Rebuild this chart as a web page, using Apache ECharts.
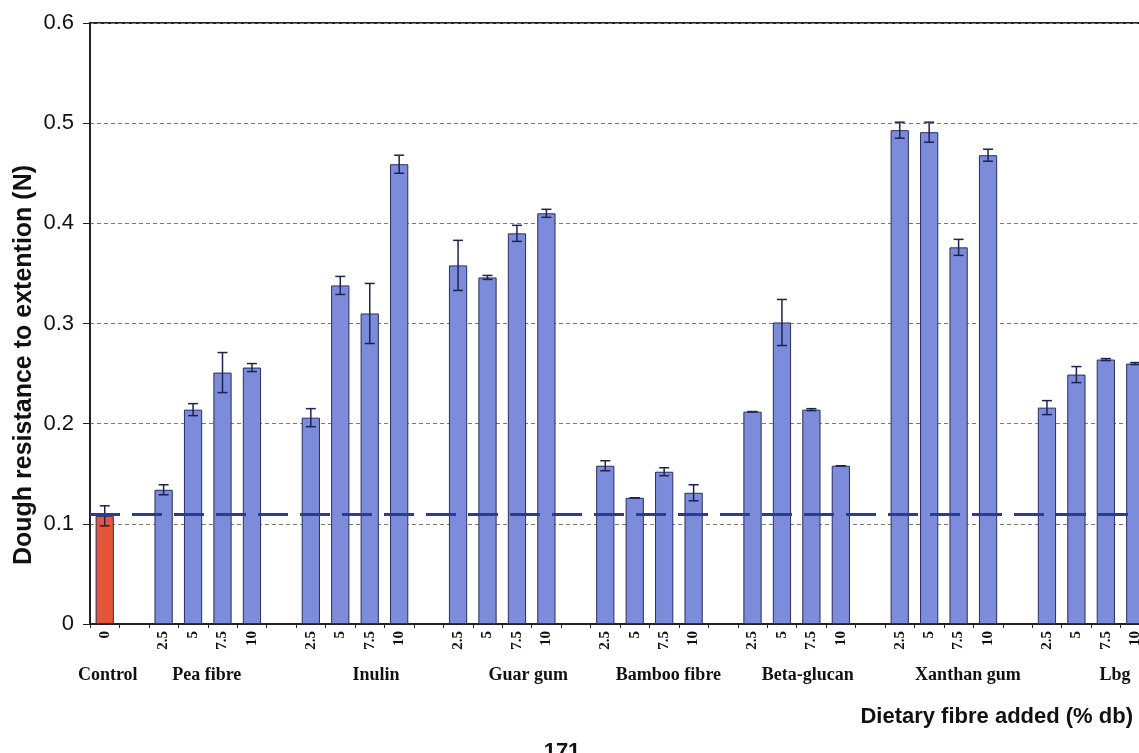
<!DOCTYPE html>
<html>
<head>
<meta charset="utf-8">
<script src="https://cdn.jsdelivr.net/npm/echarts@6/dist/echarts.min.js"></script>
<style>
  html, body { margin: 0; padding: 0; background: #ffffff; }
  #chart { width: 1139px; height: 753px; }
</style>
</head>
<body>
<div id="chart"></div>
<script>
// Fibre groups and the dose levels (% db) tested for each
const groups = ['Control', 'Pea fibre', 'Inulin', 'Guar gum', 'Bamboo fibre', 'Beta-glucan', 'Xanthan gum', 'Lbg'];
const controlDoses = ['0'];
const fibreDoses = ['2.5', '5', '7.5', '10'];

// Mean dough resistance to extension (N) and the error-bar half widths
const controlMean = [0.108];
const controlErr = [0.010];
const peaMean = [0.134, 0.214, 0.251, 0.256];
const peaErr = [0.005, 0.006, 0.020, 0.004];
const inulinMean = [0.206, 0.338, 0.310, 0.459];
const inulinErr = [0.009, 0.009, 0.030, 0.009];
const guarMean = [0.358, 0.346, 0.390, 0.410];
const guarErr = [0.025, 0.002, 0.008, 0.004];
const bambooMean = [0.158, 0.126, 0.152, 0.131];
const bambooErr = [0.005, 0.000, 0.004, 0.008];
const betaMean = [0.212, 0.301, 0.214, 0.158];
const betaErr = [0.000, 0.023, 0.001, 0.000];
const xanthanMean = [0.493, 0.491, 0.376, 0.468];
const xanthanErr = [0.008, 0.010, 0.008, 0.006];
const lbgMean = [0.216, 0.249, 0.264, 0.260];
const lbgErr = [0.007, 0.008, 0.001, 0.001];

// Control level drawn as a dashed reference across the plot
const controlLevel = 0.108;

// Value axis ticks
const yMin = 0, yMax = 0.6, yStep = 0.1;

// Horizontal nudge (px) of each group caption relative to its group centre
const groupCaptionNudge = [3, -1, 21, 26, 19, 11, 24, 24];

const groupMeans = [controlMean, peaMean, inulinMean, guarMean, bambooMean, betaMean, xanthanMean, lbgMean];
const groupErrs = [controlErr, peaErr, inulinErr, guarErr, bambooErr, betaErr, xanthanErr, lbgErr];

// One slot per bar, with an empty slot between consecutive groups
const slots = [];
const groupSlotRange = [];
groups.forEach((g, gi) => {
  if (gi > 0) slots.push({ key: 'gap' + gi, gap: true });
  const doses = gi === 0 ? controlDoses : fibreDoses;
  const start = slots.length;
  doses.forEach((d, di) => {
    slots.push({ key: g + '|' + d, dose: d, mean: groupMeans[gi][di], err: groupErrs[gi][di], control: gi === 0 });
  });
  groupSlotRange.push([start, slots.length - 1]);
});

const categories = slots.map(s => s.key);
const barData = slots.map(s => {
  if (s.gap) return '-';
  if (s.control) return { value: s.mean, itemStyle: { color: '#e4553a' } };
  return s.mean;
});
const errData = [];
slots.forEach((s, i) => { if (!s.gap) errData.push([i, s.mean, s.err]); });

const chart = echarts.init(document.getElementById('chart'), null, { renderer: 'canvas' });

const option = {
  animation: false,
  backgroundColor: '#ffffff',
  grid: {
    left: 90, top: 23, width: 1060, height: 601,
    show: true, borderColor: '#222222', borderWidth: 2, backgroundColor: 'transparent',
    containLabel: false, outerBoundsMode: 'none'
  },
  xAxis: {
    type: 'category',
    data: categories,
    boundaryGap: true,
    axisLine: { lineStyle: { color: '#222222', width: 2 } },
    axisTick: { show: true, length: 4, lineStyle: { color: '#222222' } },
    axisLabel: {
      interval: 0,
      rotate: 90,
      margin: 7,
      fontFamily: 'Liberation Serif',
      fontWeight: 'bold',
      fontSize: 15,
      color: '#111111',
      formatter: v => (v.indexOf('|') < 0 ? '' : v.split('|')[1])
    },
    splitLine: { show: false }
  },
  yAxis: {
    type: 'value',
    min: yMin, max: yMax, interval: yStep,
    axisLine: { show: true, lineStyle: { color: '#222222', width: 2 } },
    axisTick: { show: true, length: 7, lineStyle: { color: '#222222' } },
    axisLabel: {
      margin: 16,
      fontFamily: 'Liberation Sans',
      fontSize: 22,
      color: '#111111'
    },
    splitLine: { show: true, lineStyle: { color: '#7a7a7a', width: 1, type: [4, 3] } }
  },
  series: [
    {
      name: 'Resistance',
      type: 'bar',
      data: barData,
      barWidth: '62%',
      itemStyle: { color: '#7d8cda', borderColor: '#2a2d5e', borderWidth: 1 },
      z: 2
    },
    {
      name: 'Error',
      type: 'custom',
      data: errData,
      z: 4,
      renderItem: (params, api) => {
        const x = api.value(0), m = api.value(1), e = api.value(2);
        const top = api.coord([x, m + e]);
        const bot = api.coord([x, m - e]);
        const half = 5;
        const st = { stroke: '#1c2350', lineWidth: 1.5 };
        return {
          type: 'group',
          children: [
            { type: 'line', shape: { x1: top[0], y1: top[1], x2: bot[0], y2: bot[1] }, style: st },
            { type: 'line', shape: { x1: top[0] - half, y1: top[1], x2: top[0] + half, y2: top[1] }, style: st },
            { type: 'line', shape: { x1: bot[0] - half, y1: bot[1], x2: bot[0] + half, y2: bot[1] }, style: st }
          ]
        };
      },
      markLine: {
        silent: true,
        symbol: ['none', 'none'],
        label: { show: false },
        lineStyle: { color: '#2b3d92', width: 3, type: [30, 12] },
        data: [{ yAxis: controlLevel }],
        z: 6
      }
    }
  ]
};

chart.setOption(option);

// Captions: group names under the dose labels, axis titles
const graphics = [];
groups.forEach((g, gi) => {
  const r = groupSlotRange[gi];
  const c0 = chart.convertToPixel({ xAxisIndex: 0 }, r[0]);
  const c1 = chart.convertToPixel({ xAxisIndex: 0 }, r[1]);
  graphics.push({
    type: 'text',
    x: (c0 + c1) / 2 + groupCaptionNudge[gi],
    y: 675,
    style: {
      text: g, fill: '#111111',
      font: 'bold 18px "Liberation Serif"',
      textAlign: 'center', textVerticalAlign: 'middle'
    }
  });
});
graphics.push({
  type: 'text',
  x: 24, y: 365, rotation: Math.PI / 2,
  style: {
    text: 'Dough resistance to extention (N)', fill: '#111111',
    font: 'bold 25px "Liberation Sans"',
    textAlign: 'center', textVerticalAlign: 'middle'
  }
});
graphics.push({
  type: 'text',
  x: 1133, y: 717,
  style: {
    text: 'Dietary fibre added (% db)', fill: '#111111',
    font: 'bold 22px "Liberation Sans"',
    textAlign: 'right', textVerticalAlign: 'middle'
  }
});
graphics.push({
  type: 'text',
  x: 562, y: 752,
  style: {
    text: '171', fill: '#111111',
    font: 'bold 22px "Liberation Sans"',
    textAlign: 'center', textVerticalAlign: 'middle'
  }
});
chart.setOption({ graphic: graphics });
</script>
</body>
</html>
